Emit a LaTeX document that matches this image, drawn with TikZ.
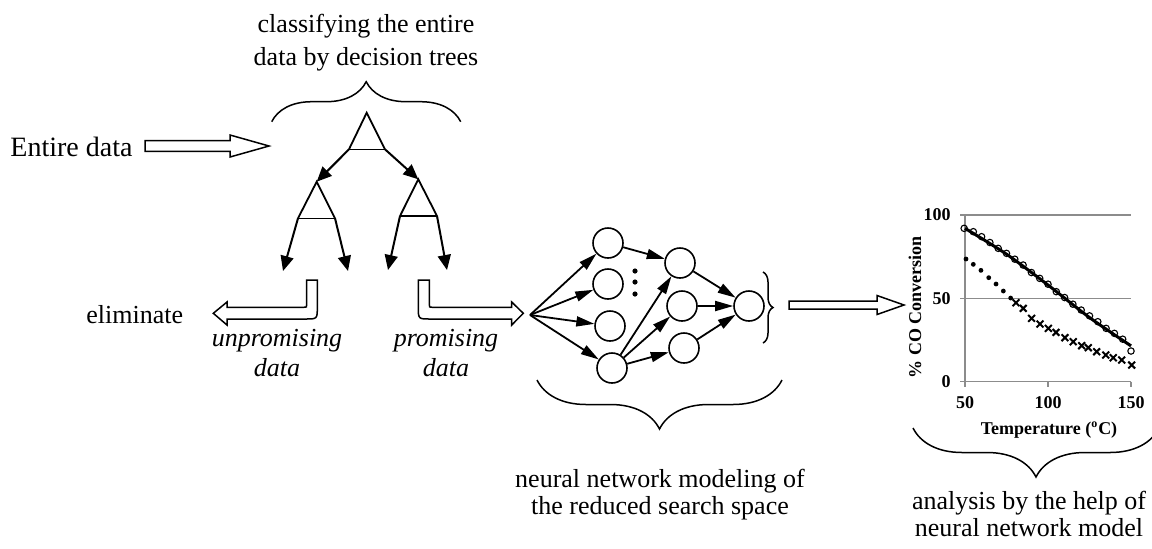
\documentclass[tikz,border=0pt]{standalone}
\usepackage{fontspec}
\setmainfont{Liberation Serif}
\usetikzlibrary{arrows.meta,calc,decorations.pathreplacing}

\tikzset{
  treearr/.style={-{Triangle[length=7.5pt,width=6.5pt]},line width=1pt},
  netarr/.style={-{Triangle[length=9pt,width=5pt]},line width=0.9pt},
  neuron/.style={circle,draw,line width=0.8pt,minimum size=15pt,inner sep=0pt},
  hollow/.style={draw,line width=0.75pt,fill=white,line join=miter},
  brc/.style={decorate,decoration={brace,amplitude=#1},line width=0.75pt},
  txt/.style={font=\fontsize{13}{#1}\selectfont,align=center,inner sep=0pt},
  itxt/.style={font=\fontsize{13}{#1}\selectfont\itshape,align=center,inner sep=0pt},
  axlbl/.style={font=\bfseries\fontsize{9}{10}\selectfont,inner sep=0pt},
}

\begin{document}
\begin{tikzpicture}[x=0.5pt,y=-0.5pt]
  \useasboundingbox (0,0) rectangle (1152,548);
  % 输入数据与箭头
  \node[anchor=base west,inner sep=0pt,font=\fontsize{14}{16}\selectfont] (entire) at (10,156) {Entire data};
  \draw[hollow] (145,140.7) -- (230,140.7) -- (230,135) -- (269,146) -- (230,157) -- (230,151.3) -- (145,151.3) -- cycle;
  % 决策树
  \coordinate (R)  at (366.7,112.7);
  \coordinate (Rl) at (349,149.3);
  \coordinate (Rr) at (385,149.3);
  \coordinate (L)  at (316.7,181.7);
  \coordinate (Ll) at (298,218.3);
  \coordinate (Lr) at (335,218.3);
  \coordinate (Q)  at (418.3,179.3);
  \coordinate (Ql) at (400,216);
  \coordinate (Qr) at (437,216);
  \foreach \t in {R,L,Q} {
    \draw[line width=0.9pt] (\t l) -- (\t) -- (\t r);
    \draw[line width=0.55pt] (\t l) -- (\t r);
  }
  \draw[treearr] (Rl) -- (L);
  \draw[treearr] (Rr) -- (Q);
  \coordinate (u1) at (283,271);
  \coordinate (u2) at (348,271);
  \coordinate (p1) at (388,270);
  \coordinate (p2) at (447,270);
  \draw[treearr] (Ll) -- (u1);
  \draw[treearr] (Lr) -- (u2);
  \draw[treearr] (Ql) -- (p1);
  \draw[treearr] (Qr) -- (p2);
  % 上方括号与说明
  \draw[brc=20pt] (271.7,121.7) -- (460.7,121.7);
  \node[txt=16.5pt] (classify) at (366,43) {classifying the entire\\data by decision trees};
  % 两个弯曲空心箭头
  \draw[hollow] (306.7,280) -- (317.3,280) -- (317.3,307) .. controls (317.3,319) .. (305.3,319)
    -- (227,319) -- (227,325) -- (213.3,313.3) -- (227,302) -- (227,307.3)
    -- (303.7,307.3) .. controls (306.7,307.3) .. (306.7,304.3) -- cycle;
  \draw[hollow] (418.3,280) -- (429.3,280) -- (429.3,304.3) .. controls (429.3,307.3) .. (432.3,307.3)
    -- (511.7,307.3) -- (511.7,302) -- (523.3,313.3) -- (511.7,325) -- (511.7,319)
    -- (430.3,319) .. controls (418.3,319) .. (418.3,307) -- cycle;
  \node[anchor=base west,inner sep=0pt,font=\fontsize{13}{15}\selectfont] (elim) at (86,323) {eliminate};
  \node[itxt=15pt] (unprom) at (277,353) {unpromising\\data};
  \node[itxt=15pt] (prom) at (446,353) {promising\\data};
  % 神经网络
  \coordinate (in) at (530,315);
  \node[neuron] (h1) at (608,243) {};
  \node[neuron] (h2) at (608,284) {};
  \node[neuron] (h3) at (610,326) {};
  \node[neuron] (h4) at (612,368) {};
  \node[neuron] (o1) at (680,263) {};
  \node[neuron] (o2) at (682,306) {};
  \node[neuron] (o3) at (684,348) {};
  \node[neuron] (out) at (749,306) {};
  \foreach \h in {h1,h2,h3,h4} \draw[netarr] (in) -- (\h);
  \draw[netarr] (h1) -- (o1);
  \foreach \o in {o1,o2,o3} {
    \draw[netarr] (h4) -- (\o);
    \draw[netarr] (\o) -- (out);
  }
  \foreach \y in {271,282,294} \fill (635,\y) circle (1.3pt);
  \draw[brc=5pt] (763,272) -- (763,343);
  \draw[brc=24.5pt] (782,380) -- (537,380);
  \node[txt=13.5pt] (nnlbl) at (660,495) {neural network modeling of\\the reduced search space};
  \draw[hollow] (789,301) -- (877,301) -- (877,295.5) -- (904,305) -- (877,314.5) -- (877,309) -- (789,309) -- cycle;
  % 结果曲线
  \begin{scope}[shift={(882,381.7)},x=0.83pt,y=0.8335pt]
    \draw[black!45,line width=0.7pt] (50,100) -- (150,100) (50,50) -- (150,50);
    \draw[black!45,line width=0.7pt] (150,0) -- (50,0) -- (50,100);
    \foreach \p in {0,50,100} {
      \draw[black!45,line width=0.7pt] (47,\p) -- (50,\p);
      \node[axlbl,anchor=east] at ([xshift=-7pt]50,\p) {\p};
    }
    \foreach \t in {50,100,150} {
      \draw[black!45,line width=0.7pt] (\t,0) -- (\t,-3);
      \node[axlbl,anchor=north] at ([yshift=-7pt]\t,0) {\t};
    }
    \draw[line width=1.5pt] plot[smooth] coordinates {(50,92) (75,76.5) (100,58) (125,38.5) (150,21.5)};
    \foreach \t/\p in {49.5/92,55/90,60/87,65/83.5,70/80,75/77,80/73.5,85/70,90/65.5,95/62,100/58.5,
        105/54,110/50.5,115/46.5,120/43,125/39.5,130/36,135/32,140/29,145/25.5,150/18.4}
      \draw[line width=0.55pt] (\t,\p) circle (1.6pt);
    \foreach \t/\p in {50.6/73.6,55/70.4,59.6/66.8,64.3/62.4,68.7/58.6,73.1/54.4,77.5/50.2}
      \fill (\t,\p) circle (1.2pt);
    \foreach \t/\p in {80.7/47.4,85.1/44,90.1/38,95.2/34.6,100.2/32,104.8/29.6,110.2/26.4,115.2/24,
        120.3/21.6,124.3/20.4,129.3/18,134.8/16,139.3/14.4,144.4/13,150.4/10}
      \draw[line width=1pt] (\t,\p) ++(-1.7pt,-1.7pt) -- ++(3.4pt,3.4pt) ++(0,-3.4pt) -- ++(-3.4pt,3.4pt);
  \end{scope}
  \node[axlbl,rotate=90] (ylbl) at (915,307) {\% CO Conversion};
  \node[axlbl] (xlbl) at (1049,430) {Temperature (\textsuperscript{o}C)};
  \draw[brc=24.5pt] (1159,428) -- (913,428);
  \node[txt=13.5pt] (anlbl) at (1029,514) {analysis by the help of\\neural network model};
\end{tikzpicture}
\end{document}
